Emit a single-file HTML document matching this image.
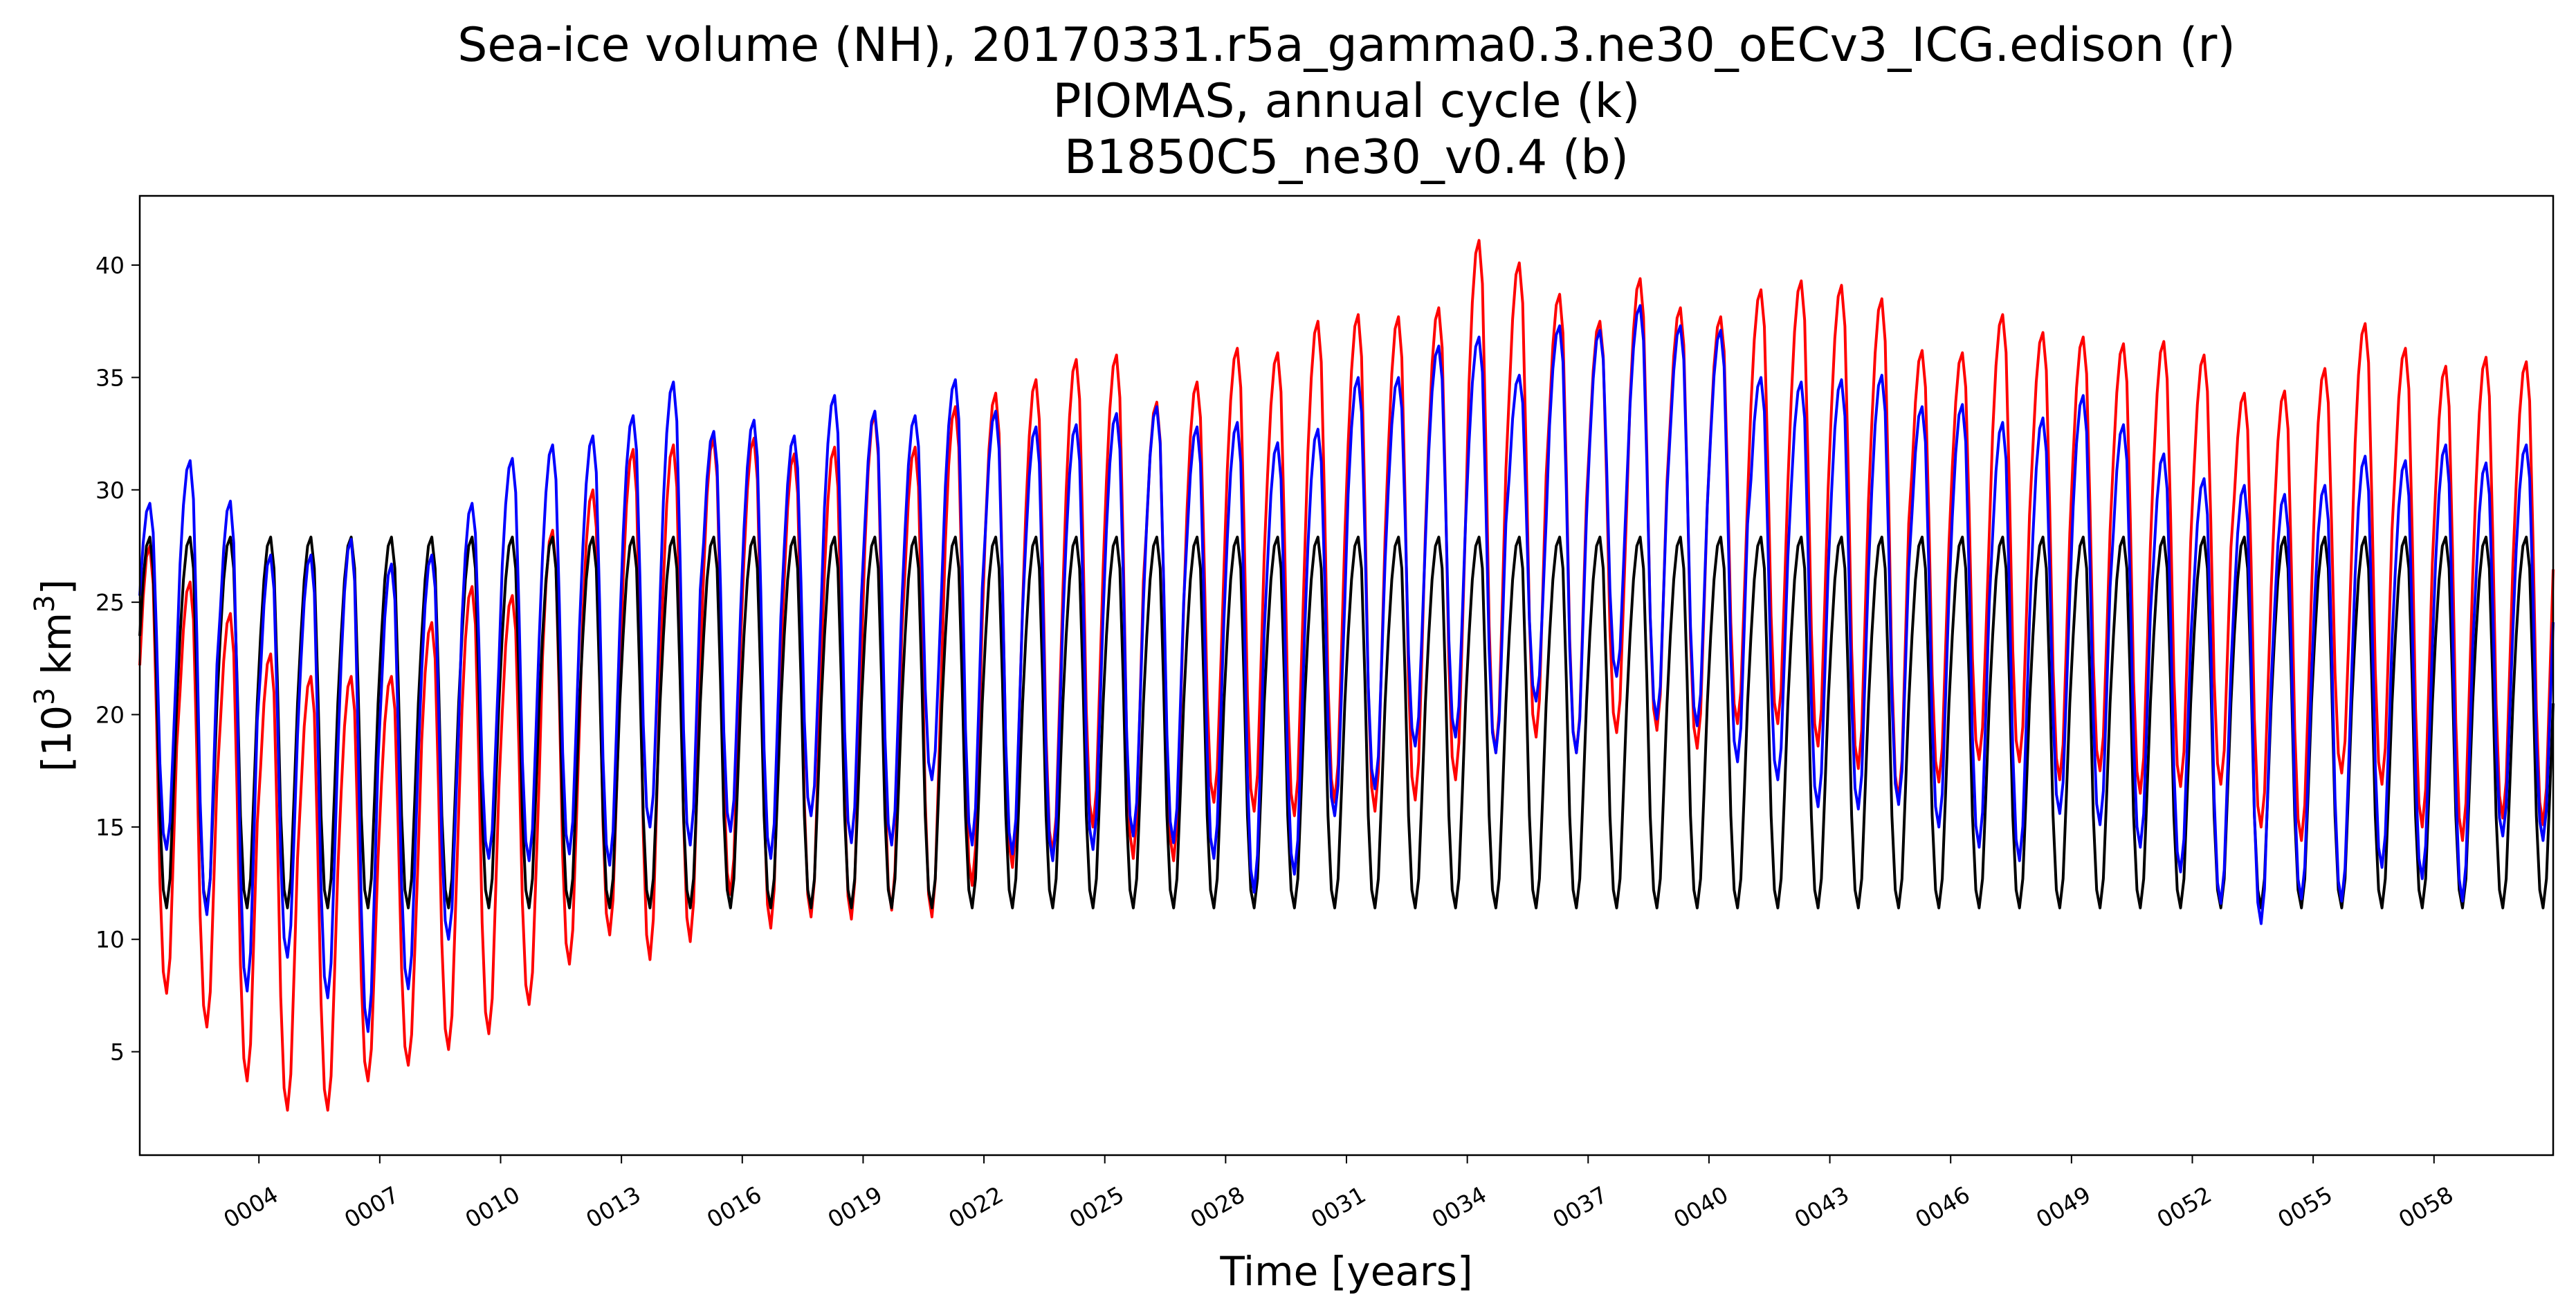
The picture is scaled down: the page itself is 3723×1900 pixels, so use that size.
<!DOCTYPE html>
<html><head><meta charset="utf-8"><style>
html,body{margin:0;padding:0;background:#fff;}
svg{display:block;font-family:"DejaVu Sans","Liberation Sans",sans-serif;}
</style></head><body>
<svg id="chart" width="3723" height="1900" viewBox="0 0 3723 1900" xmlns="http://www.w3.org/2000/svg">
<rect width="3723" height="1900" fill="#fff"/>
<g font-size="68" text-anchor="middle" fill="#000">
<text x="1946" y="88">Sea-ice volume (NH), 20170331.r5a_gamma0.3.ne30_oECv3_ICG.edison (r)</text>
<text x="1946" y="169">PIOMAS, annual cycle (k)</text>
<text x="1946" y="250">B1850C5_ne30_v0.4 (b)</text>
</g>
<g id="plot"></g>
<rect x="202" y="283" width="3488" height="1386" fill="none" stroke="#000" stroke-width="2.5"/>
<text x="1946" y="1857" font-size="58" text-anchor="middle">Time [years]</text>
<text transform="translate(102,976) rotate(-90)" font-size="58" text-anchor="middle">[10<tspan font-size="40" dy="-24">3</tspan><tspan dy="24"> km</tspan><tspan font-size="40" dy="-24">3</tspan><tspan dy="24">]</tspan></text>
</svg>
<script>
const climatology = [23.5, 26.0, 27.5, 27.9, 26.5, 21.5, 15.5, 12.2, 11.4, 12.7, 16.5, 20.5];
const redMax = [27.5,25.9,24.5,22.7,21.7,21.7,21.7,24.1,25.7,25.3,28.2,30.0,31.8,32.0,32.3,32.3,31.6,31.9,33.4,31.9,33.7,34.3,34.9,35.8,36.0,33.9,34.8,36.3,36.1,37.5,37.8,37.7,38.1,41.1,40.1,38.7,37.5,39.4,38.1,37.7,38.9,39.3,39.1,38.5,36.2,36.1,37.8,37.0,36.8,36.5,36.6,36.0,34.3,34.4,35.4,37.4,36.3,35.5,35.9,35.7];
const redMin = [7.6,6.1,3.7,2.4,2.4,3.7,4.4,5.1,5.8,7.1,8.9,10.2,9.1,9.9,12.0,10.5,11.0,10.9,11.3,11.0,12.4,13.2,13.8,15.0,13.6,13.5,16.1,15.7,15.5,16.1,15.7,16.2,17.1,18.3,19.0,18.3,19.2,19.3,18.5,19.6,19.6,18.6,17.6,16.2,17.0,18.0,17.9,17.1,17.5,16.5,16.8,16.9,15.0,14.4,17.4,16.9,15.0,14.4,15.4,15.1];
const blueMax = [29.4,31.3,29.5,27.1,27.1,27.8,26.7,27.1,29.4,31.4,32.0,32.4,33.3,34.8,32.6,33.1,32.4,34.2,33.5,33.3,34.9,33.5,32.8,32.9,33.4,33.7,32.8,33.0,32.1,32.7,35.0,35.0,36.4,36.8,35.1,37.3,37.1,38.2,37.3,37.1,35.0,34.8,34.9,35.1,33.7,33.8,33.0,33.2,34.2,32.9,31.6,30.5,30.2,29.8,30.2,31.5,31.3,32.0,31.2,32.0];
const blueMin = [14.0,11.1,7.7,9.2,7.4,5.9,7.8,10.0,13.6,13.5,13.8,13.3,15.0,14.2,14.8,13.6,15.5,14.3,14.2,17.1,14.2,13.8,13.5,14.0,14.6,14.3,13.6,12.1,12.9,15.5,16.7,18.6,19.0,18.3,20.6,18.3,21.7,19.8,19.5,17.9,17.1,15.9,15.8,16.0,15.0,14.1,13.5,15.6,15.1,14.1,13.0,11.6,10.7,11.8,11.7,13.2,12.7,11.7,14.6,14.4];
const yTicks = [5,10,15,20,25,30,35,40];
const xTickYears = [4,7,10,13,16,19,22,25,28,31,34,37,40,43,46,49,52,55,58];
const xTickLabels = ["0004","0007","0010","0013","0016","0019","0022","0025","0028","0031","0034","0037","0040","0043","0046","0049","0052","0055","0058"];

const NS = "http://www.w3.org/2000/svg";
const X0 = 202, X1 = 3690, Y0 = 283, Y1 = 1669;
const T0 = 1 + 1/24, T1 = 61 - 1/24, V0 = 0.4, V1 = 43.08;
function xScale(t){ return X0 + (t - T0) / (T1 - T0) * (X1 - X0); }
function yScale(v){ return Y1 - (v - V0) / (V1 - V0) * (Y1 - Y0); }
const cMin = Math.min(...climatology), cMax = Math.max(...climatology);
const shape = climatology.map(v => (v - cMin) / (cMax - cMin));
function monthly(maxArr, minArr){
  const out = [];
  for (let y = 0; y < maxArr.length; y++) {
    for (let m = 0; m < 12; m++) {
      const base = (m <= 3 && y > 0) ? minArr[y-1] : minArr[y];
      out.push(base + (maxArr[y] - base) * shape[m]);
    }
  }
  return out;
}
const plot = document.getElementById('plot');
function addLine(vals, color, name){
  let d = '';
  vals.forEach((v, i) => { d += (i ? 'L' : 'M') + xScale(1 + (i + 0.5) / 12).toFixed(1) + ',' + yScale(v).toFixed(1); });
  const p = document.createElementNS(NS, 'path');
  p.setAttribute('d', d);
  p.setAttribute('fill', 'none');
  p.setAttribute('stroke', color);
  p.setAttribute('stroke-width', '4');
  p.setAttribute('stroke-linejoin', 'round');
  
  
  plot.appendChild(p);
}
const nYears = redMax.length;
const blackVals = [];
for (let y = 0; y < nYears; y++) for (let m = 0; m < 12; m++) blackVals.push(climatology[m]);
addLine(monthly(redMax, redMin), '#ff0000', 'series-model-r');
addLine(blackVals, '#000000', 'series-piomas-k');
addLine(monthly(blueMax, blueMin), '#0000ff', 'series-b1850-b');

yTicks.forEach(v => {
  const yy = yScale(v);
  const l = document.createElementNS(NS, 'line');
  l.setAttribute('x1', X0 - 12); l.setAttribute('x2', X0);
  l.setAttribute('y1', yy); l.setAttribute('y2', yy);
  l.setAttribute('stroke', '#000'); l.setAttribute('stroke-width', '2');
  
  
  plot.appendChild(l);
  const t = document.createElementNS(NS, 'text');
  t.setAttribute('x', X0 - 22); t.setAttribute('y', yy + 12);
  t.setAttribute('text-anchor', 'end'); t.setAttribute('font-size', '33');
  t.textContent = v;
  
  
  plot.appendChild(t);
});
xTickYears.forEach((yr, i) => {
  const xx = xScale(yr);
  const l = document.createElementNS(NS, 'line');
  l.setAttribute('x1', xx); l.setAttribute('x2', xx);
  l.setAttribute('y1', Y1); l.setAttribute('y2', Y1 + 12);
  l.setAttribute('stroke', '#000'); l.setAttribute('stroke-width', '2');
  
  
  plot.appendChild(l);
  const t = document.createElementNS(NS, 'text');
  t.setAttribute('transform', 'translate(' + (xx - 6) + ',1754) rotate(-30)');
  t.setAttribute('text-anchor', 'middle'); t.setAttribute('font-size', '33');
  t.textContent = xTickLabels[i];
  
  
  plot.appendChild(t);
});
</script>
</body></html>
